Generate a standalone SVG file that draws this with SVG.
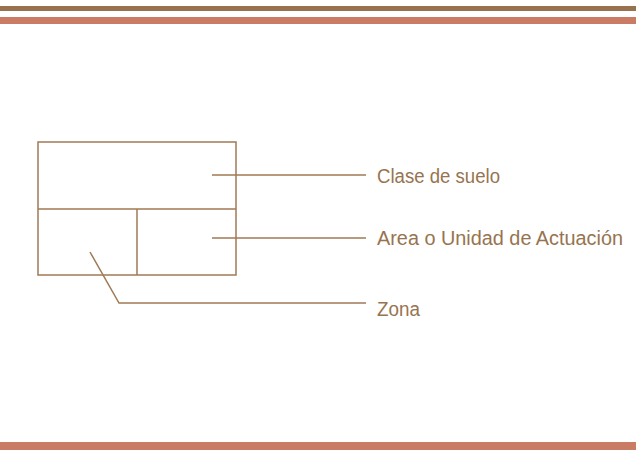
<svg xmlns="http://www.w3.org/2000/svg" width="636" height="450" viewBox="0 0 636 450">
<style>
.ln{stroke:#a07a55;stroke-width:1.5;fill:none}
.lbl{font-family:"Liberation Sans",Arial,sans-serif;font-size:20px;fill:#97744f}
</style>
<rect width="636" height="450" fill="#ffffff"/>
<rect x="0" y="6" width="636" height="5" fill="#98724e"/>
<rect x="0" y="17" width="636" height="7" fill="#c97b63"/>
<rect x="0" y="442" width="636" height="8" fill="#c97b63"/>
<g id="box">
<rect class="ln" x="38" y="142" width="198" height="133"/>
<line class="ln" x1="38" y1="209" x2="236" y2="209"/>
<line class="ln" x1="137" y1="209" x2="137" y2="275"/>
</g>
<g id="connectors">
<line class="ln" x1="212" y1="175" x2="366" y2="175"/>
<line class="ln" x1="212" y1="238" x2="366" y2="238"/>
<polyline class="ln" points="90,252 119,303 366,303"/>
</g>
<g id="clase"><text class="lbl" x="377" y="183" textLength="123" lengthAdjust="spacingAndGlyphs">Clase de suelo</text></g>
<g id="area"><text class="lbl" x="377" y="245" textLength="246" lengthAdjust="spacingAndGlyphs">Area o Unidad de Actuación</text></g>
<g id="zona"><text class="lbl" x="377" y="316" textLength="43" lengthAdjust="spacingAndGlyphs">Zona</text></g>
</svg>
